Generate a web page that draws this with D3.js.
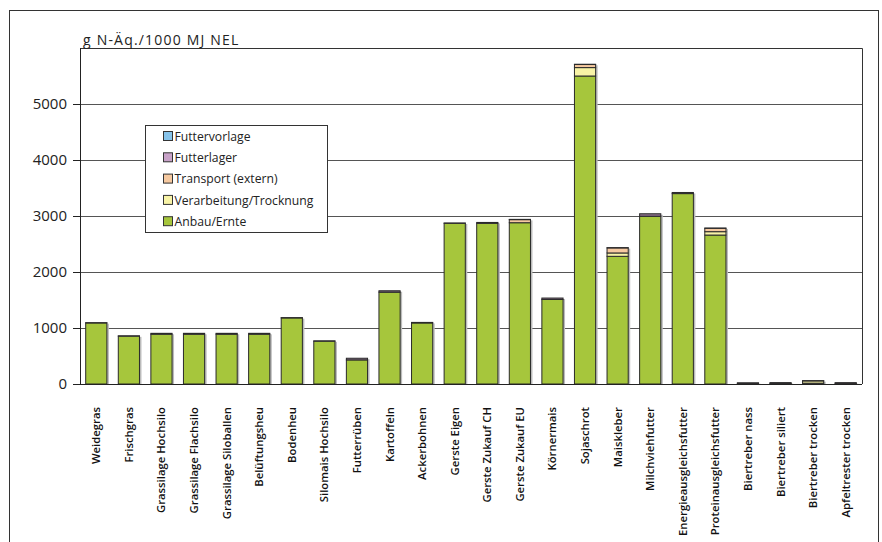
<!DOCTYPE html>
<html>
<head>
<meta charset="utf-8">
<script src="https://cdn.jsdelivr.net/npm/d3@7/dist/d3.min.js"></script>
<style>
  body { margin: 0; background: #fff; }
  svg { display: block; font-family: "Open Sans", "DejaVu Sans", sans-serif; }
</style>
</head>
<body>
<svg id="chart"></svg>
<script>
// categories (feeds)
const categories = [
    "Weidegras", "Frischgras", "Grassilage Hochsilo", "Grassilage Flachsilo",
    "Grassilage Siloballen", "Belüftungsheu", "Bodenheu", "Silomais Hochsilo",
    "Futterrüben", "Kartoffeln", "Ackerbohnen", "Gerste Eigen", "Gerste Zukauf CH",
    "Gerste Zukauf EU", "Körnermais", "Sojaschrot", "Maiskleber", "Milchviehfutter",
    "Energieausgleichsfutter", "Proteinausgleichsfutter", "Biertreber nass",
    "Biertreber siliert", "Biertreber trocken", "Apfeltrester trocken"
];

// series, stacked from bottom to top
const anbauErnte = [1090, 855, 890, 890, 890, 890, 1180, 765, 430, 1640, 1090, 2870, 2870, 2880, 1510, 5500, 2280, 2995, 3400, 2660, 10, 10, 15, 12];
const verarbeitung = [0, 0, 0, 0, 0, 0, 0, 0, 0, 0, 0, 0, 0, 0, 0, 150, 60, 0, 0, 60, 0, 0, 40, 0];
const transport = [0, 0, 0, 0, 0, 0, 0, 0, 0, 0, 0, 0, 0, 55, 0, 55, 90, 0, 0, 60, 0, 0, 0, 0];
const futterlager = [5, 5, 15, 15, 15, 15, 5, 5, 30, 25, 10, 5, 15, 5, 25, 5, 5, 45, 20, 5, 12, 15, 5, 12];
const futtervorlage = [0, 0, 0, 0, 0, 0, 0, 0, 0, 0, 0, 0, 0, 0, 0, 0, 0, 0, 0, 0, 0, 0, 0, 0];

const seriesNames = ["Anbau/Ernte", "Verarbeitung/Trocknung", "Transport (extern)", "Futterlager", "Futtervorlage"];
const seriesValues = [anbauErnte, verarbeitung, transport, futterlager, futtervorlage];
const seriesColors = ["#a6c63c", "#f8f3a6", "#f6c9a0", "#8a6f8a", "#86c3ea"];
const legendColors = ["#a6c63c", "#f8f3a6", "#f6c9a0", "#c8a2c8", "#86c3ea"];

const yTicks = [0, 1000, 2000, 3000, 4000, 5000];
const yLabel = "g N-Äq./1000 MJ NEL";

const width = 882, height = 542;
const margin = { top: 48, left: 80 };
const plotW = 862 - margin.left;
const innerHeight = 384 - margin.top;

const svg = d3.select("#chart").attr("width", width).attr("height", height);

// outer frame
svg.append("rect")
    .attr("x", 9.5).attr("y", 10.5)
    .attr("width", 869).attr("height", 560)
    .attr("fill", "none").attr("stroke", "#333").attr("stroke-width", 1);

const x = d3.scaleBand()
    .domain(categories)
    .range([0, plotW])
    .paddingInner(0.35)
    .paddingOuter(0.175);

const y = d3.scaleLinear()
    .domain([0, 6000])
    .range([innerHeight, 0]);

const g = svg.append("g").attr("transform", `translate(${margin.left},${margin.top})`);

// gridlines
g.selectAll(".grid")
    .data(yTicks.filter(d => d > 0))
    .enter().append("line")
    .attr("x1", 0).attr("x2", plotW)
    .attr("y1", d => Math.round(y(d)) + 0.5).attr("y2", d => Math.round(y(d)) + 0.5)
    .attr("stroke", "#555").attr("stroke-width", 1);

// plot frame top/right
g.append("path")
    .attr("d", `M0,0.5H${plotW + 0.5}V${innerHeight}`)
    .attr("fill", "none").attr("stroke", "#333");

// stacked data
const rows = categories.map((c, i) => {
    const r = { cat: c };
    seriesNames.forEach((s, j) => r[s] = seriesValues[j][i]);
    return r;
});
const stacked = d3.stack().keys(seriesNames)(rows);

// shadow
g.selectAll(".shadow")
    .data(rows)
    .enter().append("rect")
    .attr("x", d => x(d.cat) + 2)
    .attr("y", d => y(d3.sum(seriesNames, s => d[s])) + 1)
    .attr("width", x.bandwidth())
    .attr("height", d => innerHeight - y(d3.sum(seriesNames, s => d[s])) - 1)
    .attr("fill", "#bbb");

stacked.forEach((layer, j) => {
    g.selectAll(".bar" + j)
        .data(layer.filter(d => d[1] - d[0] > 0))
        .enter().append("rect")
        .attr("x", d => x(d.data.cat))
        .attr("y", d => y(d[1]))
        .attr("width", x.bandwidth())
        .attr("height", d => y(d[0]) - y(d[1]))
        .attr("fill", seriesColors[j])
        .attr("stroke", "#2a2a2a")
        .attr("stroke-width", 1);
});

// y axis
const yAxis = g.append("g")
    .call(d3.axisLeft(y).tickValues(yTicks).tickSize(7).tickPadding(6).tickFormat(d3.format("d")));
yAxis.select(".domain").attr("d", `M0.5,0V${innerHeight}`).attr("stroke", "#222");
yAxis.selectAll(".tick line").attr("stroke", "#222");
yAxis.selectAll("text").attr("font-size", 15).attr("fill", "#222")
    .attr("font-family", "Open Sans, DejaVu Sans, sans-serif");

// x axis
const xAxis = g.append("g")
    .attr("transform", `translate(0,${innerHeight})`)
    .call(d3.axisBottom(x).tickSize(0).tickPadding(0));
xAxis.select(".domain").attr("d", `M0,0.5H${plotW}`).attr("stroke", "#222");
xAxis.selectAll("text")
    .attr("transform", "translate(0,23) rotate(-90)")
    .attr("text-anchor", "end")
    .attr("dy", "0.35em")
    .attr("x", 0)
    .attr("y", 0)
    .attr("font-size", 11.3)
    .attr("font-weight", 600)
    .attr("fill", "#111")
    .attr("font-family", "Open Sans, DejaVu Sans, sans-serif");

// y label
svg.append("text")
    .attr("x", 83).attr("y", 45)
    .attr("font-size", 14)
    .attr("letter-spacing", 1.2)
    .attr("fill", "#222")
    .text(yLabel);

// legend
const legend = svg.append("g").attr("transform", "translate(145.5,125.5)");
legend.append("rect")
    .attr("width", 182).attr("height", 107)
    .attr("fill", "#fff").attr("stroke", "#333");
const legendOrder = [4, 3, 2, 1, 0];
legendOrder.forEach((j, k) => {
    const item = legend.append("g").attr("transform", `translate(18,${11 + k * 21.3})`);
    item.append("rect")
        .attr("x", 0).attr("y", -5).attr("width", 9).attr("height", 9)
        .attr("fill", legendColors[j]).attr("stroke", "#333");
    item.append("text")
        .attr("x", 11).attr("y", 0).attr("dy", "0.35em")
        .attr("font-size", 12.2).attr("fill", "#222")
        .text(seriesNames[j]);
});
</script>
</body>
</html>
